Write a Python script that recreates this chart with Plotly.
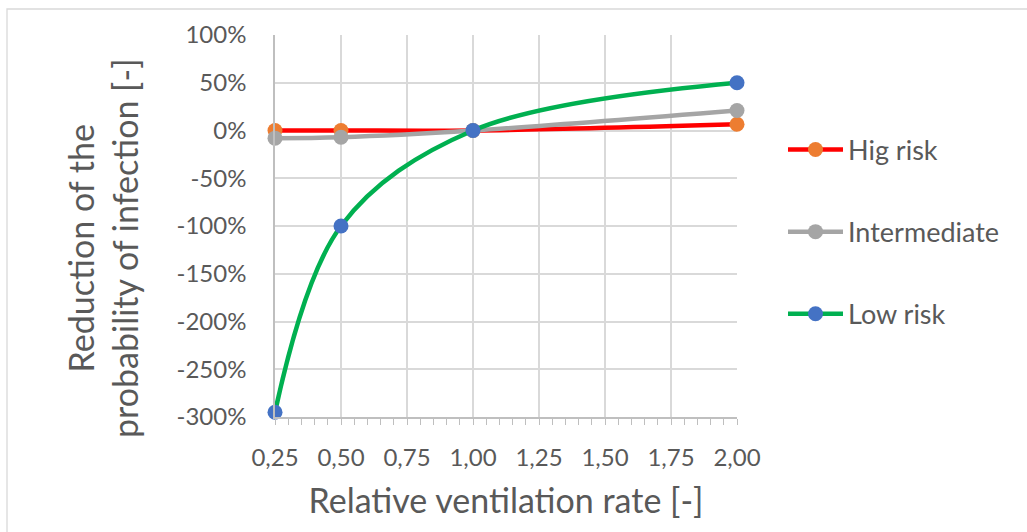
import plotly.graph_objects as go

x_vals = [0.25, 0.5, 1.0, 2.0]
high_risk = [0.0, 0.0, 0.0, 0.065]
intermediate = [-0.08, -0.07, 0.0, 0.21]
low_risk = [-2.95, -1.0, 0.0, 0.50]

series_names = ["Hig risk", "Intermediate", "Low risk"]
line_colors = ["#FF0000", "#A5A5A5", "#00B050"]
marker_colors = ["#ED7D31", "#A5A5A5", "#4472C4"]

y_tickvals = [1.0, 0.5, 0.0, -0.5, -1.0, -1.5, -2.0, -2.5, -3.0]
y_ticktext = ["100%", "50%", "0%", "-50%", "-100%", "-150%", "-200%", "-250%", "-300%"]
x_tickvals = [0.25, 0.5, 0.75, 1.0, 1.25, 1.5, 1.75, 2.0]
x_ticktext = ["0,25", "0,50", "0,75", "1,00", "1,25", "1,50", "1,75", "2,00"]

FONT = "Lato"
TXT = "#595959"

fig = go.Figure()
for i, (name, ys) in enumerate(zip(series_names, [high_risk, intermediate, low_risk])):
    fig.add_trace(go.Scatter(
        x=x_vals, y=ys, name=name, mode="lines+markers",
        line=dict(color=line_colors[i], width=4.5, shape="spline", smoothing=1.0),
        marker=dict(color=marker_colors[i], size=15),
        legendgroup=f"g{i}", cliponaxis=False,
        hoverinfo="skip",
    ))

L, R, T, B = 275, 290, 35, 115
W, H = 1027, 532
pw, ph = W - L - R, H - T - B

fig.update_layout(
    width=W, height=H,
    margin=dict(l=L, r=R, t=T, b=B),
    paper_bgcolor="white", plot_bgcolor="white",
    font=dict(family=FONT, color=TXT, size=22),
    showlegend=True,
    legend=dict(
        x=(783 - L) / pw, y=(H - B - 232) / ph, xanchor="left", yanchor="middle",
        font=dict(family=FONT, size=27, color=TXT),
        tracegroupgap=44, itemwidth=55, bgcolor="rgba(0,0,0,0)",
    ),
    xaxis=dict(
        range=[0.25, 2.0], tickvals=x_tickvals, ticktext=x_ticktext,
        showgrid=True, gridcolor="#D9D9D9", gridwidth=1.5,
        showline=True, linecolor="#BFBFBF", linewidth=1.5,
        ticks="outside", ticklen=6, tickcolor="#BFBFBF", tickwidth=1.3,
        minor=dict(dtick=0.05, ticks="outside", ticklen=6, tickcolor="#BFBFBF", showgrid=False),
        ticklabelstandoff=12,
        tickfont=dict(size=24, color=TXT),
        title=dict(text="Relative ventilation rate [-]", font=dict(size=34, color=TXT), standoff=20),
        zeroline=False, fixedrange=True,
    ),
    yaxis=dict(
        range=[-3.0, 1.0], tickvals=y_tickvals, ticktext=y_ticktext,
        showgrid=True, gridcolor="#D9D9D9", gridwidth=1.5,
        showline=True, linecolor="#BFBFBF", linewidth=1.5,
        ticks="", ticklabelstandoff=22,
        tickfont=dict(size=24, color=TXT),
        zeroline=False, fixedrange=True,
    ),
    annotations=[dict(
        text="Reduction of the<br>probability of infection [-]",
        textangle=-90, xref="paper", yref="paper",
        x=(102 - L) / pw, y=(H - B - 248) / ph, xanchor="center", yanchor="middle",
        showarrow=False, font=dict(family=FONT, size=34, color=TXT),
    )],
    shapes=[dict(
        type="rect", xref="paper", yref="paper",
        x0=(7 - L) / pw, x1=(W + 5 - L) / pw,
        y0=(H - B - (H + 5)) / ph, y1=(H - B - 9) / ph,
        line=dict(color="#D9D9D9", width=1.3), fillcolor="rgba(0,0,0,0)", layer="below",
    )],
)

fig.write_html("out.html")
